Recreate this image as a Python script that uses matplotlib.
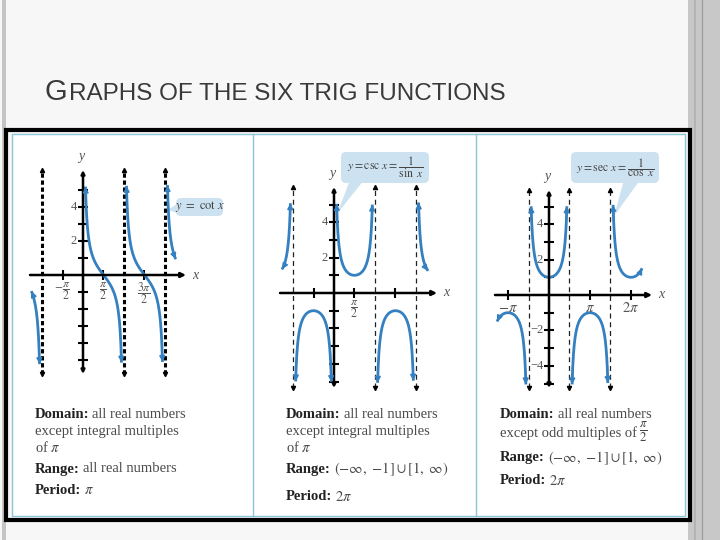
import numpy as np
import matplotlib.pyplot as plt
from matplotlib.patches import Rectangle, FancyBboxPatch, Polygon

W, H = 720, 540
SX = 13.05  # pixels per x unit (pi = 41 px)
BLUE = '#3580c0'
SERIF = ['Liberation Serif', 'DejaVu Serif']
plt.rcParams['mathtext.fontset'] = 'stix'

# branch intervals (x start, x end)
cot_branches = [(-3.95, -3.33), (0.19, 2.95), (3.33, 6.09), (6.47, 7.10)]
csc_branches = [(-3.98, -3.34), (-2.94, -0.20), (0.20, 2.94), (3.34, 6.08), (6.48, 7.20)]
sec_branches = [(-3.98, -1.77), (-1.37, 1.37), (1.77, 4.51), (4.91, 7.13)]

cot_asym = [-np.pi, np.pi, 2 * np.pi]
csc_asym = [-np.pi, np.pi, 2 * np.pi]
sec_asym = [-np.pi / 2, np.pi / 2, 3 * np.pi / 2]

cot_xticks = [-np.pi / 2, np.pi / 2, 3 * np.pi / 2]
cot_xlabels = [r'$-\dfrac{\pi}{2}$', r'$\dfrac{\pi}{2}$', r'$\dfrac{3\pi}{2}$']
csc_xticks = [-np.pi / 2, np.pi / 2, 3 * np.pi / 2]
csc_xlabels = ['', r'$\dfrac{\pi}{2}$', '']
sec_xticks = [-np.pi, np.pi, 2 * np.pi]
sec_xlabels = [r'$-\pi$', r'$\pi$', r'$2\pi$']

yticks = [-5, -4, -3, -2, -1, 1, 2, 3, 4, 5]
cot_ylabels = {4: '4', 2: '2'}
csc_ylabels = {4: '4', 2: '2'}
sec_ylabels = {4: '4', 2: '2', -2: '\u22122', -4: '\u22124'}

rng = r'$(-\infty,\ {-1}] \cup [1,\ \infty)$'
cot_text = [[('Domain:', True), ('all real numbers', False)],
            [('except integral multiples', False)],
            [('of $\\pi$', False)],
            [('Range:', True), ('all real numbers', False)],
            [('Period:', True), (r'$\pi$', False)]]
csc_text = [[('Domain:', True), ('all real numbers', False)],
            [('except integral multiples', False)],
            [('of $\\pi$', False)],
            [('Range:', True), (rng, False)],
            [('Period:', True), (r'$2\pi$', False)]]
sec_text = [[('Domain:', True), ('all real numbers', False)],
            [('except odd multiples of', False)],
            [('Range:', True), (rng, False)],
            [('Period:', True), (r'$2\pi$', False)]]

fig = plt.figure(figsize=(7.2, 5.4), dpi=100)
fig.patch.set_facecolor('#f7f7f7')
bg = fig.add_axes([0, 0, 1, 1])
bg.set_xlim(0, W)
bg.set_ylim(H, 0)
bg.axis('off')
rend = fig.canvas.get_renderer()

# slide frame
bg.add_patch(Rectangle((2, 0), 4, H, color='#c4c4c4', lw=0))
bg.add_patch(Rectangle((688, 0), 32, H, color='#c8c8c8', lw=0))
bg.plot([695, 695], [0, H], color='#b4b4b4', lw=1.5)
bg.plot([702, 702], [0, H], color='#a0a0a0', lw=1)

# title
t = bg.text(45, 100, 'G', fontsize=21, family='Liberation Sans', color='#3a3a3a', va='baseline')
bg.text(45 + t.get_window_extent(rend).width + 1, 100, 'RAPHS OF THE SIX TRIG FUNCTIONS',
        fontsize=17.5, family='Liberation Sans', color='#3a3a3a', va='baseline')

# boxes
bg.add_patch(Rectangle((6, 130), 684, 390, fill=False, ec='black', lw=3))
bg.add_patch(Rectangle((12, 134), 673, 382, fc='white', ec='#8cc4d8', lw=1))
for xd in [253, 476]:
    bg.plot([xd, xd], [134, 516], color='#8cc4d8', lw=1)


def graph(ox, oy, sy, box):
    left, top, right, bottom = box
    ax = fig.add_axes([left / W, 1 - bottom / H, (right - left) / W, (bottom - top) / H])
    ax.set_xlim((left - ox) / SX, (right - ox) / SX)
    ax.set_ylim((oy - bottom) / sy, (oy - top) / sy)
    ax.axis('off')
    ax.patch.set_visible(False)
    return ax


def panel(ax, ox, oy, sy, f, branches, asym, xaxis, yaxis, xticks, xlabels, ylabels, thick):
    px = lambda p: (p - ox) / SX
    py = lambda p: (oy - p) / sy
    # asymptotes
    for a in asym:
        y0, y1 = py(yaxis[1]), py(yaxis[0])
        if thick:
            ax.plot([a, a], [y0, y1], color='black', lw=2.2, dashes=(1.4, 0.9))
        else:
            ax.plot([a, a], [y0, y1], color='#222222', lw=0.9, dashes=(4, 3))
        ax.plot([a], [y1], marker='^', color='black', ms=3)
        ax.plot([a], [y0], marker='v', color='black', ms=3)
    # axes
    ax.annotate('', xy=(px(xaxis[1]), 0), xytext=(px(xaxis[0]), 0),
                arrowprops=dict(arrowstyle='-|>', lw=1.8, color='black', mutation_scale=7,
                                shrinkA=0, shrinkB=0))
    ax.annotate('', xy=(0, py(yaxis[0])), xytext=(0, py(yaxis[1])),
                arrowprops=dict(arrowstyle='<|-|>', lw=1.8, color='black', mutation_scale=5,
                                shrinkA=0, shrinkB=0))
    ax.text(px(xaxis[1]) + 0.45, 0, 'x', family=SERIF, style='italic', fontsize=10,
            color='#555555', va='center', ha='left')
    ax.text(-0.1, py(yaxis[0]) + 0.4, 'y', family=SERIF, style='italic', fontsize=10,
            color='#555555', va='bottom', ha='center')
    ax.plot(xticks, [0] * len(xticks), ls='none', marker='|', ms=7, mew=1.5, color='black')
    ax.plot([0] * len(yticks), yticks, ls='none', marker='_', ms=7, mew=1.5, color='black')
    for xv, lab in zip(xticks, xlabels):
        fs = 8.5 if 'frac' in lab else 10.5
        ax.text(xv, -0.3, lab, fontsize=fs, color='#555555', ha='center', va='top')
    for yv, lab in ylabels.items():
        ax.text(-0.45, yv, lab, family=SERIF, fontsize=9, color='#555555', ha='right', va='center')
    # curves
    for a, b in branches:
        x = np.linspace(a, b, 300)
        y = f(x)
        ax.plot(x, y, color=BLUE, lw=2, solid_capstyle='butt')
        for i, j in [(0, 6), (-1, -7)]:
            ax.annotate('', xy=(x[i], y[i]), xytext=(x[j], y[j]),
                        arrowprops=dict(arrowstyle='-|>', lw=1.2, color=BLUE, mutation_scale=8,
                                        shrinkA=0, shrinkB=0))


cot = lambda x: np.cos(x) / np.sin(x)
csc = lambda x: 1 / np.sin(x)
sec = lambda x: 1 / np.cos(x)

ax1 = graph(83, 275, 17.0, (18, 145, 245, 395))
panel(ax1, 83, 275, 17.0, cot, cot_branches, cot_asym, (30, 186), (170, 374), cot_xticks,
      cot_xlabels, cot_ylabels, True)
ax2 = graph(334, 293, 17.7, (262, 145, 470, 395))
panel(ax2, 334, 293, 17.7, csc, csc_branches, csc_asym, (280, 437), (187, 388), csc_xticks,
      csc_xlabels, csc_ylabels, False)
ax3 = graph(549, 295, 17.7, (482, 145, 682, 395))
panel(ax3, 549, 295, 17.7, sec, sec_branches, sec_asym, (495, 652), (190, 388), sec_xticks,
      sec_xlabels, sec_ylabels, False)

# callout labels
BOXC = '#cde2f0'
callouts = [((176, 198, 47, 18), [(178, 203), (178, 213), (168, 210)], r'$y\ =\ \mathrm{cot}\ x$', 9),
            ((341, 152, 88, 31), [(350, 180), (364, 180), (337, 214)],
             r'$y = \mathrm{csc}\ x = \dfrac{1}{\sin\ x}$', 8.5),
            ((571, 152, 88, 31), [(624, 180), (640, 180), (614, 216)],
             r'$y = \mathrm{sec}\ x = \dfrac{1}{\cos\ x}$', 8.5)]
for (x0, y0, w, h), tri, s, fs in callouts:
    bg.add_patch(Polygon(tri, closed=True, color=BOXC, lw=0, zorder=3))
    bg.add_patch(FancyBboxPatch((x0, y0), w, h, boxstyle='round,pad=0,rounding_size=5',
                                fc=BOXC, ec='none', zorder=3))
    bg.text(x0 + w / 2, y0 + h / 2, s, fontsize=fs, color='#444444', ha='center', va='center', zorder=4)


def rich(x, y, parts):
    for s, bold in parts:
        t = bg.text(x, y, s, fontsize=10.5, family=SERIF,
                    fontweight='bold' if bold else 'normal',
                    color='#222222' if bold else '#4a4a4a', va='center', ha='left')
        x += t.get_window_extent(rend).width + 3
    return x


for yy, parts in zip([414, 431, 448, 469, 491], cot_text):
    rich(35, yy, parts)
for yy, parts in zip([414, 431, 448, 469, 497], csc_text):
    rich(286, yy, parts)
for yy, parts in zip([414, 433, 458, 481], sec_text):
    xe = rich(500, yy, parts)
    if parts[0][0].startswith('except'):
        bg.text(xe - 1, yy - 1, r'$\frac{\pi}{2}$', fontsize=13, color='#444444', ha='left', va='center')

fig.savefig('out.png', dpi=100, facecolor=fig.get_facecolor())
